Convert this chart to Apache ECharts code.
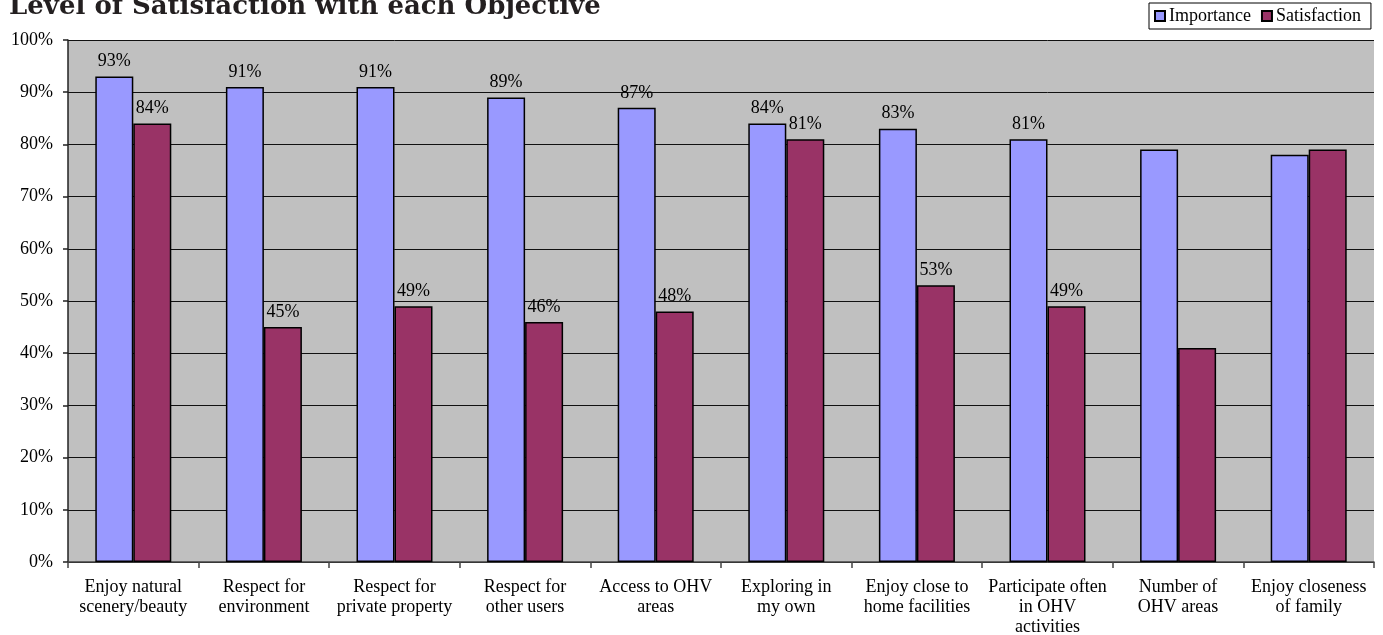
<!DOCTYPE html>
<html>
<head>
<meta charset="utf-8">
<script src="https://cdn.jsdelivr.net/npm/echarts@6/dist/echarts.min.js"></script>
<style>
html,body{margin:0;padding:0;background:#fff;}
#chart{width:1383px;height:635px;}
</style>
</head>
<body>
<div id="chart"></div>
<script>
const categories = [
  'Enjoy natural\nscenery/beauty',
  'Respect for\nenvironment',
  'Respect for\nprivate property',
  'Respect for\nother users',
  'Access to OHV\nareas',
  'Exploring in\nmy own',
  'Enjoy close to\nhome facilities',
  'Participate often\nin OHV\nactivities',
  'Number of\nOHV areas',
  'Enjoy closeness\nof family'
];
const importance = [93, 91, 91, 89, 87, 84, 83, 81, 79, 78];
const satisfaction = [84, 45, 49, 46, 48, 81, 53, 49, 41, 79];
const importanceLabelShown = [true, true, true, true, true, true, true, true, false, false];
const satisfactionLabelShown = [true, true, true, true, true, true, true, true, false, false];
const yTicks = [0, 10, 20, 30, 40, 50, 60, 70, 80, 90, 100];

const serif = '"Liberation Serif", "Times New Roman", serif';

function mk(values, shown) {
  return values.map((v, i) => ({ value: v, label: { show: shown[i] } }));
}

const chart = echarts.init(document.getElementById('chart'));
chart.setOption({
  animation: false,
  backgroundColor: '#ffffff',
  title: {
    text: 'Level of Satisfaction with each Objective',
    left: 4,
    top: -11,
    textStyle: { fontFamily: '"DejaVu Serif", serif', fontWeight: 'bold', fontSize: 26, color: '#231f20' }
  },
  legend: {
    left: 1149,
    top: 3,
    orient: 'horizontal',
    backgroundColor: '#ffffff',
    borderColor: '#000000',
    borderWidth: 1,
    padding: [4, 10, 4, 5],
    itemGap: 10,
    itemWidth: 10,
    itemHeight: 10,
    icon: 'rect',
    textStyle: { fontFamily: serif, fontSize: 18, color: '#000', padding: [0, 0, 0, -1] },
    data: ['Importance', 'Satisfaction']
  },
  grid: {
    left: 68,
    right: 9,
    top: 40,
    bottom: 73,
    show: true,
    backgroundColor: '#c0c0c0',
    borderWidth: 0,
    containLabel: false,
    outerBoundsMode: 'none'
  },
  xAxis: {
    type: 'category',
    data: categories,
    axisLine: { show: true, lineStyle: { color: '#444', width: 1.5 } },
    axisTick: { show: true, length: 6, lineStyle: { color: '#444', width: 1.5 } },
    axisLabel: {
      fontFamily: serif, fontSize: 18, color: '#000', lineHeight: 20, margin: 15, interval: 0
    }
  },
  yAxis: {
    type: 'value',
    min: yTicks[0],
    max: yTicks[yTicks.length - 1],
    interval: 10,
    axisLine: { show: true, lineStyle: { color: '#222', width: 1.5 } },
    axisTick: { show: true, length: 5, lineStyle: { color: '#222', width: 1.5 } },
    axisLabel: { fontFamily: serif, fontSize: 18, color: '#000', margin: 15, formatter: '{value}%' },
    splitLine: { show: true, lineStyle: { color: '#111', width: 1 } }
  },
  series: [
    {
      name: 'Importance',
      type: 'bar',
      data: mk(importance, importanceLabelShown),
      barWidth: 38,
      barGap: '0%',
      itemStyle: { color: '#9999ff', borderColor: '#000', borderWidth: 1.5 },
      label: {
        position: 'top', distance: 6, formatter: '{c}%',
        fontFamily: serif, fontSize: 18, color: '#000'
      }
    },
    {
      name: 'Satisfaction',
      type: 'bar',
      data: mk(satisfaction, satisfactionLabelShown),
      barWidth: 38,
      barGap: '0%',
      itemStyle: { color: '#993366', borderColor: '#000', borderWidth: 1.5 },
      label: {
        position: 'top', distance: 6, formatter: '{c}%',
        fontFamily: serif, fontSize: 18, color: '#000'
      }
    }
  ]
});
</script>
</body>
</html>
